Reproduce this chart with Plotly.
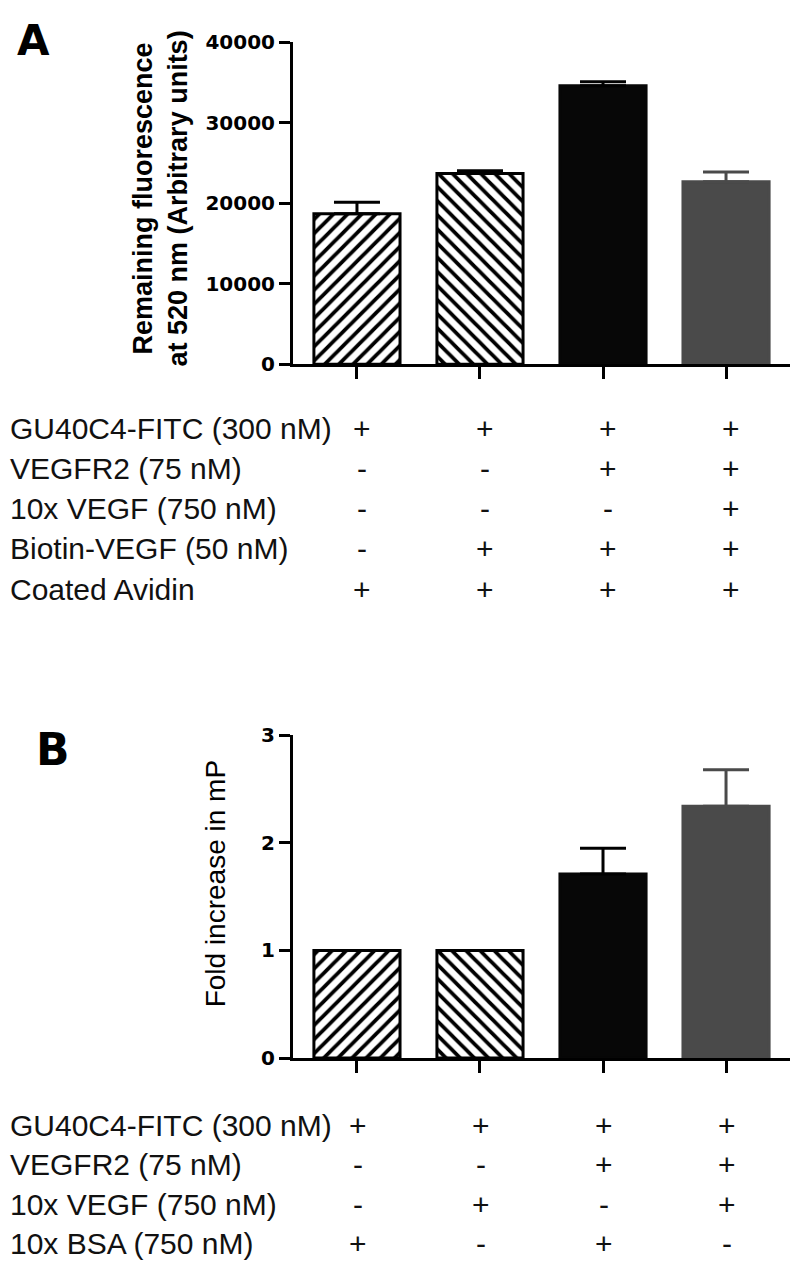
import plotly.graph_objects as go

# ---------------- data ----------------
categories = ["Group 1", "Group 2", "Group 3", "Group 4"]

values_a = [18700, 23700, 34600, 22700]
errors_a = [1450, 350, 500, 1200]

values_b = [1.0, 1.0, 1.71, 2.34]
errors_b = [0.0, 0.0, 0.24, 0.34]

yticks_a = [0, 10000, 20000, 30000, 40000]
yticks_b = [0, 1, 2, 3]

rows_a = ["GU40C4-FITC (300 nM)", "VEGFR2 (75 nM)", "10x VEGF (750 nM)",
          "Biotin-VEGF (50 nM)", "Coated Avidin"]
signs_a = [["+", "+", "+", "+"],
           ["-", "-", "+", "+"],
           ["-", "-", "-", "+"],
           ["-", "+", "+", "+"],
           ["+", "+", "+", "+"]]

rows_b = ["GU40C4-FITC (300 nM)", "VEGFR2 (75 nM)", "10x VEGF (750 nM)",
          "10x BSA (750 nM)"]
signs_b = [["+", "+", "+", "+"],
           ["-", "-", "+", "+"],
           ["-", "+", "-", "+"],
           ["+", "-", "+", "-"]]

# ---------------- styles ----------------
W, H = 800, 1283
fills = ["white", "white", "#070707", "#4a4a4a"]
edges = ["black", "black", "#070707", "#4a4a4a"]
shapes = ["/", "\\", "", ""]
ecolors = ["black", "black", "black", "#4a4a4a"]


def py(pix):
    return 1 - pix / H


fig = go.Figure()


def add_bars(vals, errs, xa, ya):
    for i, c in enumerate(categories):
        fig.add_trace(go.Bar(
            x=[c], y=[vals[i]], width=0.7,
            xaxis=xa, yaxis=ya,
            marker=dict(color=fills[i],
                        line=dict(color=edges[i], width=3),
                        pattern=dict(shape=shapes[i], size=10, solidity=0.38,
                                     fgcolor="#000000", bgcolor="#ffffff",
                                     fgopacity=1, fillmode="replace")),
            error_y=dict(type="data", symmetric=False, array=[errs[i]],
                         arrayminus=[0], color=ecolors[i], thickness=3,
                         width=23, visible=True),
            showlegend=False, hoverinfo="skip"))


add_bars(values_a, errors_a, "x", "y")
add_bars(values_b, errors_b, "x2", "y2")

xdom = [293 / W, 790 / W]
axis_common = dict(showline=True, linewidth=3, linecolor="black",
                   showgrid=False, zeroline=False, ticks="outside",
                   tickwidth=3, tickcolor="black")

fig.update_layout(
    width=W, height=H, margin=dict(l=0, r=0, t=0, b=0),
    paper_bgcolor="white", plot_bgcolor="white",
    barmode="overlay",
    xaxis=dict(domain=xdom, anchor="y", range=[-0.52, 3.52],
               showticklabels=False, ticklen=12, type="category",
               **axis_common),
    yaxis=dict(domain=[py(359), py(31)], anchor="x", range=[0, 40000],
               tickvals=yticks_a, tickformat="d", ticklen=11,
               tickfont=dict(family="DejaVu Sans", size=20, color="black",
                             weight="bold"),
               **axis_common),
    xaxis2=dict(domain=xdom, anchor="y2", range=[-0.52, 3.52],
                showticklabels=False, ticklen=12, type="category",
                **axis_common),
    yaxis2=dict(domain=[py(1066), py(737)], anchor="x2", range=[0, 3],
                tickvals=yticks_b, tickformat="d", ticklen=11,
                tickfont=dict(family="DejaVu Sans", size=20, color="black",
                              weight="bold"),
                **axis_common),
)

ann = []
# panel letters
ann.append(dict(text="A", x=33 / W, y=py(29), xref="paper", yref="paper",
                showarrow=False, xanchor="center", yanchor="middle",
                font=dict(family="DejaVu Sans", size=42, color="black",
                          weight="bold")))
ann.append(dict(text="B", x=53 / W, y=py(752), xref="paper", yref="paper",
                showarrow=False, xanchor="center", yanchor="middle",
                font=dict(family="DejaVu Sans", size=44, color="black",
                          weight="bold")))
# y titles
ann.append(dict(text="Remaining fluorescence<br>at 520 nm (Arbitrary units)",
                x=160 / W, y=py(190), xref="paper", yref="paper",
                textangle=-90, showarrow=False, xanchor="center",
                yanchor="middle",
                font=dict(family="Liberation Sans, Arial", size=27,
                          color="black", weight="bold")))
ann.append(dict(text="Fold increase in mP",
                x=215 / W, y=py(889), xref="paper", yref="paper",
                textangle=-90, showarrow=False, xanchor="center",
                yanchor="middle",
                font=dict(family="Liberation Sans, Arial", size=28,
                          color="black")))

tfont = dict(family="Liberation Sans, Arial", size=30, color="#111111")
rows_y_a = [424, 465, 506, 547, 588]
rows_y_b = [1135, 1174, 1215, 1255]


def add_table(rows, signs, ys, xref, shift):
    for r, lab in enumerate(rows):
        ann.append(dict(text=lab, x=8 / W, y=py(ys[r]), xref="paper",
                        yref="paper", showarrow=False, xanchor="left",
                        yanchor="middle", font=tfont))
        for j in range(len(categories)):
            ann.append(dict(text=signs[r][j], x=j, y=py(ys[r]), xref=xref,
                            yref="paper", showarrow=False, xanchor="center",
                            yanchor="middle", xshift=shift, font=tfont))


add_table(rows_a, signs_a, rows_y_a, "x", 5)
add_table(rows_b, signs_b, rows_y_b, "x2", 1)

fig.update_layout(annotations=ann)
fig.write_html("out.html",
               config={"displayModeBar": False},
               post_script="document.body.style.margin='0px';")
